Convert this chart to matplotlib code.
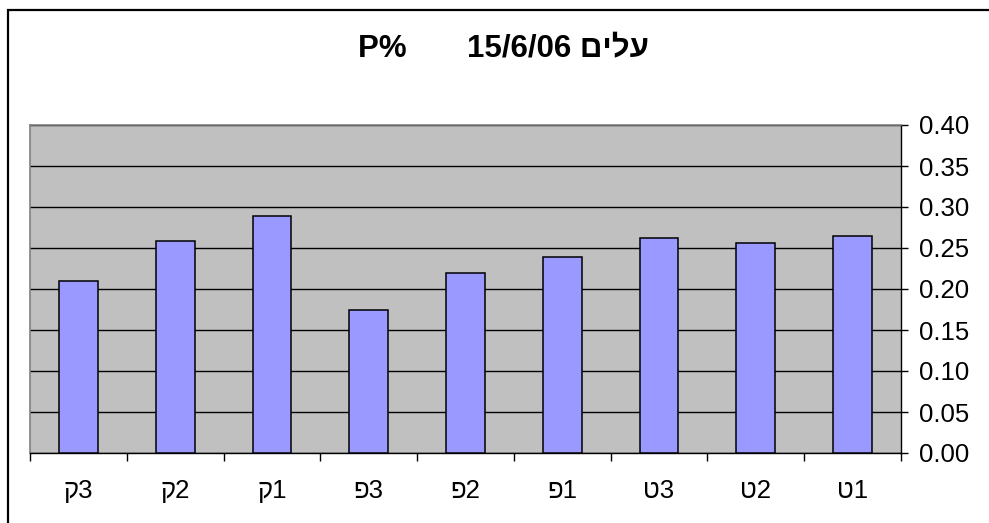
import matplotlib
matplotlib.use("Agg")
import matplotlib.pyplot as plt
from matplotlib.patches import Rectangle
from matplotlib.ticker import MultipleLocator, FixedLocator, FormatStrFormatter

plt.rcParams['font.family'] = ['Liberation Sans', 'DejaVu Sans']

# Sample labels (drawn left to right) and phosphorus percentage in leaves
categories = ["ק3", "ק2", "ק1", "פ3", "פ2", "פ1", "ט3", "ט2", "ט1"]
p_percent = [0.210, 0.258, 0.289, 0.174, 0.220, 0.239, 0.262, 0.256, 0.265]
title_text = "P%       15/6/06 םילע"

W, H = 989, 523
fig = plt.figure(figsize=(W / 100, H / 100), dpi=100)
fig.patch.set_facecolor("white")

# chart frame (top and left edges visible)
fig.patches.append(Rectangle((8 / W, -0.1), 1.2, (H - 10) / H + 0.1,
                             transform=fig.transFigure, fill=False,
                             edgecolor="black", linewidth=1.6))

ax = fig.add_axes([30 / W, 70 / H, 871 / W, 328 / H])
ax.set_facecolor("#C0C0C0")

x = list(range(len(categories)))
ax.bar(x, p_percent, width=0.4, color="#9999FF", edgecolor="black",
       linewidth=1.1, zorder=3)

ax.set_xlim(-0.5, len(categories) - 0.5)
ax.set_ylim(0, 0.40)

# horizontal gridlines
ax.yaxis.set_major_locator(MultipleLocator(0.05))
ax.yaxis.set_major_formatter(FormatStrFormatter("%.2f"))
ax.grid(axis="y", color="black", linewidth=1.0, zorder=1)
ax.set_axisbelow(True)

# value axis on the right
ax.yaxis.tick_right()
ax.tick_params(axis="y", which="major", direction="out", length=5, width=1,
               pad=8, labelsize=18.5, colors="black")

# category labels at centres, tick marks at boundaries
ax.xaxis.set_major_locator(FixedLocator(x))
ax.set_xticklabels(categories)
ax.xaxis.set_minor_locator(FixedLocator([i - 0.5 for i in range(len(categories) + 1)]))
ax.tick_params(axis="x", which="major", length=0, pad=19, labelsize=18.5)
ax.tick_params(axis="x", which="minor", direction="out", length=6, width=1)

for side in ("top", "left"):
    ax.spines[side].set_color("#808080")
    ax.spines[side].set_linewidth(1.2)
for side in ("bottom", "right"):
    ax.spines[side].set_color("black")
    ax.spines[side].set_linewidth(1.0)

fig.text(503 / W, 1 - 49 / H, title_text, ha="center", va="center",
         fontsize=22.5, fontweight="bold")

fig.savefig("out.png", dpi=100, facecolor="white")
